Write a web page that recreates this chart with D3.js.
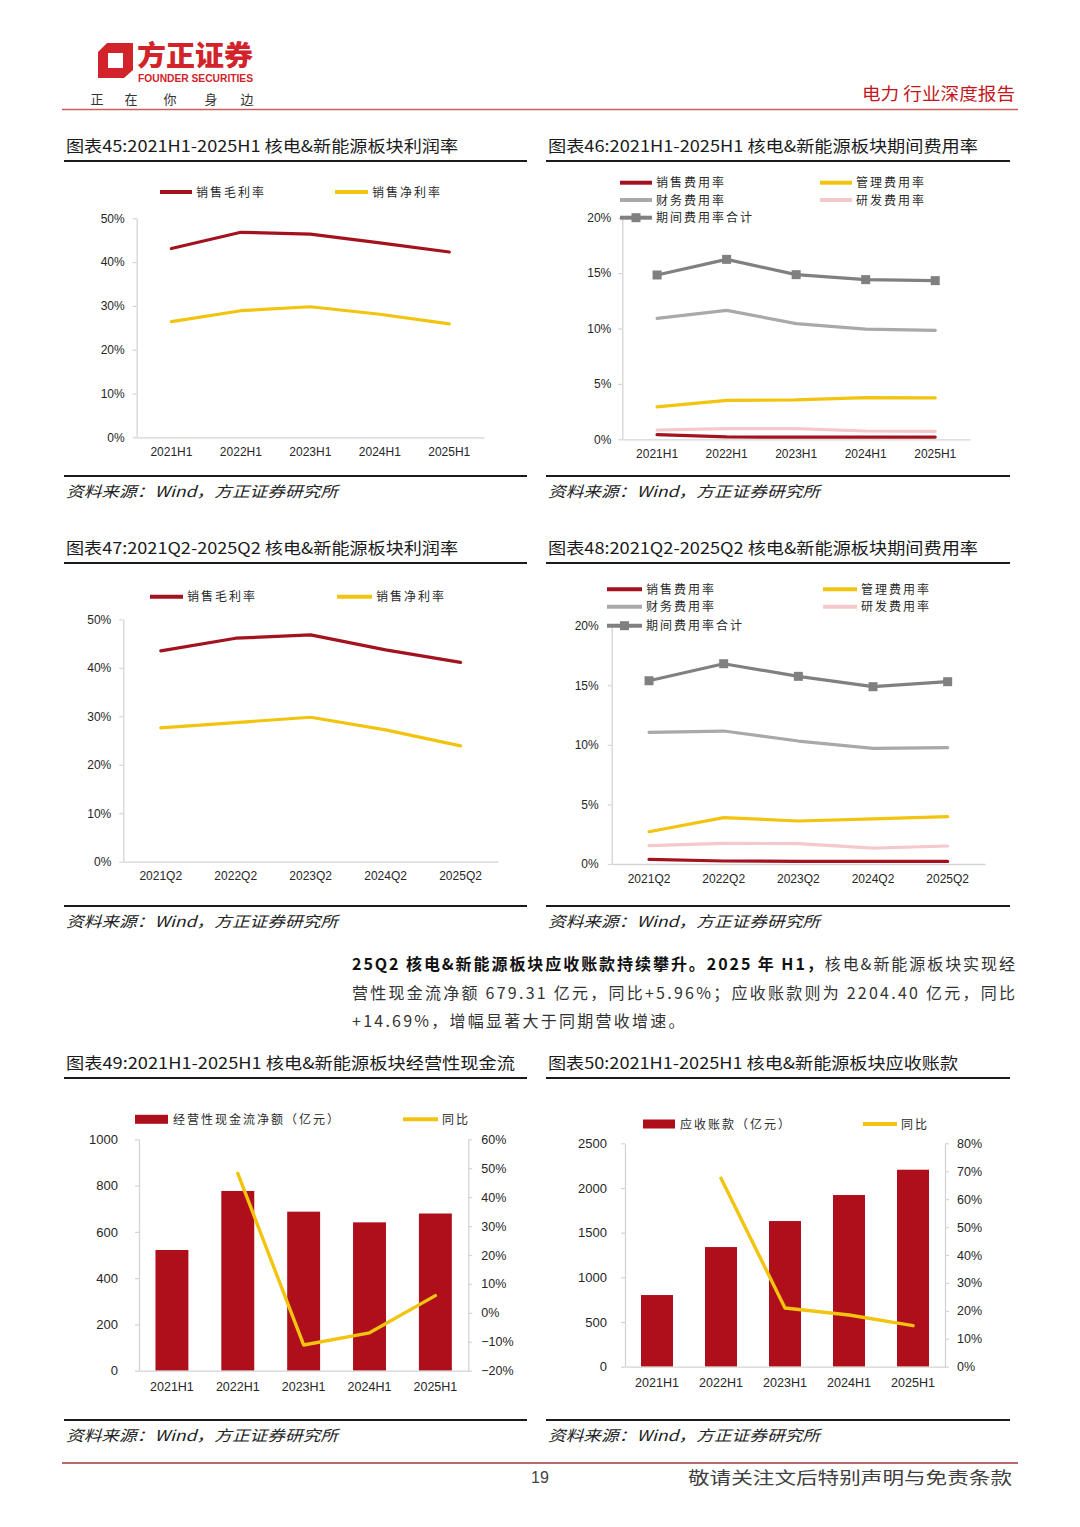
<!DOCTYPE html>
<html><head><meta charset="utf-8">
<script src="https://cdn.jsdelivr.net/npm/d3@7"></script>
<style>body{margin:0;background:#fff} svg{display:block}</style>
</head><body>
<svg id="page" width="1080" height="1527"></svg>
<script>
// ---------- data ----------
const catsH = ["2021H1","2022H1","2023H1","2024H1","2025H1"];
const catsQ = ["2021Q2","2022Q2","2023Q2","2024Q2","2025Q2"];

const c45Gross = [43.1, 46.8, 46.4, 44.4, 42.3];
const c45Net   = [26.4, 28.9, 29.8, 28.1, 25.9];

const c46Sales = [0.42, 0.21, 0.20, 0.20, 0.20];
const c46Admin = [2.92, 3.52, 3.55, 3.76, 3.73];
const c46Fin   = [10.92, 11.64, 10.44, 9.95, 9.83];
const c46RD    = [0.84, 0.96, 0.96, 0.75, 0.72];
const c46Total = [14.83, 16.24, 14.86, 14.41, 14.32];

const c47Gross = [43.5, 46.1, 46.8, 43.7, 41.1];
const c47Net   = [27.6, 28.7, 29.8, 27.2, 23.9];

const c48Sales = [0.39, 0.25, 0.22, 0.22, 0.22];
const c48Admin = [2.71, 3.89, 3.61, 3.78, 3.97];
const c48Fin   = [11.05, 11.16, 10.32, 9.71, 9.76];
const c48RD    = [1.54, 1.73, 1.71, 1.34, 1.51];
const c48Total = [15.38, 16.81, 15.75, 14.88, 15.30];

const c49Cash = [521.6, 776.7, 687.3, 641.1, 679.31];
const c49Yoy  = [null, 48.2, -11.1, -6.9, 5.96];

const c50AR  = [802, 1339, 1630, 1921, 2204.40];
const c50Yoy = [null, 67.5, 21.0, 18.5, 14.69];

const ticksPct50 = [0, 10, 20, 30, 40, 50];
const ticksPct20 = [0, 5, 10, 15, 20];
const ticksCash  = [0, 200, 400, 600, 800, 1000];
const ticksYoy49 = [-20, -10, 0, 10, 20, 30, 40, 50, 60];
const ticksAR    = [0, 500, 1000, 1500, 2000, 2500];
const ticksYoy50 = [0, 10, 20, 30, 40, 50, 60, 70, 80];

const namesMargin = ["销售毛利率", "销售净利率"];
const namesExp = ["销售费用率", "管理费用率", "财务费用率", "研发费用率", "期间费用率合计"];

// ---------- style ----------
const CJK = "'Noto Sans CJK SC', 'Noto Sans', sans-serif";
const LAT = "'Liberation Sans', Arial, sans-serif";
const RED = "#A3131F", BAR = "#AE0F1B", YEL = "#F2C40F", GRAY = "#808080", LGRAY = "#A9A9A9", PINK = "#F5C9CB";
const AX = "#D4D4D4";
const svg = d3.select("#page");
const pctFmt = d => (d < 0 ? "\u2212" + Math.abs(d) : d) + "%";

function styleAxis(g, fs) {
  g.attr("font-size", null).attr("font-family", null);
  g.select(".domain").attr("stroke", AX).attr("stroke-width", 1.3);
  g.selectAll(".tick line").attr("stroke", AX).attr("stroke-width", 1.2);
  g.selectAll("text").attr("font-family", LAT).attr("font-size", fs).attr("fill", "#262626");
}

// ---------- header ----------
svg.append("path")
  .attr("d", "M98,52 L107,43 L133,43 L133,70 L124,78 L98,78 Z M108,53 L123,53 L123,68 L108,68 Z")
  .attr("fill", "#D2232A").attr("fill-rule", "evenodd");
svg.append("text").attr("x", 137).attr("y", 66).text("方正证券")
  .attr("font-family", CJK).attr("font-weight", 900).attr("font-size", 28).attr("fill", "#D2232A")
  .attr("textLength", 116).attr("lengthAdjust", "spacingAndGlyphs");
svg.append("text").attr("x", 138).attr("y", 82).text("FOUNDER SECURITIES")
  .attr("font-family", LAT).attr("font-weight", 700).attr("font-size", 10).attr("fill", "#D2232A")
  .attr("textLength", 115).attr("lengthAdjust", "spacingAndGlyphs");
const motto = ["正", "在", "你", "身", "边"], mottoX = [97, 131, 170, 211, 247];
svg.selectAll("text.motto").data(motto).join("text").attr("class", "motto")
  .attr("x", (d, i) => mottoX[i]).attr("y", 104).attr("text-anchor", "middle").text(d => d)
  .attr("font-family", CJK).attr("font-size", 13).attr("fill", "#333");
svg.append("text").attr("x", 1015).attr("y", 100).attr("text-anchor", "end").text("电力 行业深度报告")
  .attr("font-family", CJK).attr("font-size", 17).attr("fill", "#C4161C")
  .attr("textLength", 153).attr("lengthAdjust", "spacingAndGlyphs");
svg.append("line").attr("x1", 62).attr("x2", 1018).attr("y1", 109.5).attr("y2", 109.5)
  .attr("stroke", "#C9605C").attr("stroke-width", 1.5);

// ---------- frames ----------
function frame(x0, x1, yTitle, yRule, yBottom, title, tLen) {
  svg.append("text").attr("x", x0 + 2).attr("y", yTitle + 6).text(title)
    .attr("font-family", CJK).attr("font-size", 16).attr("fill", "#1a1a1a")
    .attr("textLength", tLen).attr("lengthAdjust", "spacingAndGlyphs");
  svg.append("line").attr("x1", x0).attr("x2", x1).attr("y1", yRule).attr("y2", yRule)
    .attr("stroke", "#1a1a1a").attr("stroke-width", 2.2);
  svg.append("line").attr("x1", x0).attr("x2", x1).attr("y1", yBottom).attr("y2", yBottom)
    .attr("stroke", "#1a1a1a").attr("stroke-width", 2.2);
  svg.append("text").attr("x", x0 + 2).attr("y", yBottom + 21).text("资料来源：Wind，方正证券研究所")
    .attr("font-family", CJK).attr("font-style", "italic").attr("font-size", 15).attr("fill", "#222")
    .attr("textLength", 272).attr("lengthAdjust", "spacingAndGlyphs");
}
frame(64, 527, 146, 161, 476, "图表45:2021H1-2025H1 核电&新能源板块利润率", 392);
frame(546, 1010, 146, 161, 476, "图表46:2021H1-2025H1 核电&新能源板块期间费用率", 430);
frame(64, 527, 548, 563, 906, "图表47:2021Q2-2025Q2 核电&新能源板块利润率", 392);
frame(546, 1010, 548, 563, 906, "图表48:2021Q2-2025Q2 核电&新能源板块期间费用率", 430);
frame(64, 527, 1063, 1078, 1420, "图表49:2021H1-2025H1 核电&新能源板块经营性现金流", 449);
frame(546, 1010, 1063, 1078, 1420, "图表50:2021H1-2025H1 核电&新能源板块应收账款", 410);

// ---------- legend helpers ----------
function legLine(x1, x2, y, color, label, marker) {
  svg.append("line").attr("x1", x1).attr("x2", x2).attr("y1", y).attr("y2", y)
    .attr("stroke", color).attr("stroke-width", 4);
  if (marker) svg.append("rect").attr("x", (x1 + x2) / 2 - 4.5).attr("y", y - 4.5)
    .attr("width", 9).attr("height", 9).attr("fill", color);
  svg.append("text").attr("x", x2 + 4).attr("y", y + 4.5).text(label)
    .attr("font-family", CJK).attr("font-size", 12).attr("letter-spacing", 2).attr("fill", "#2a2a2a");
}
function legRect(x1, x2, y, color, label) {
  svg.append("rect").attr("x", x1).attr("y", y - 4.5).attr("width", x2 - x1).attr("height", 9).attr("fill", color);
  svg.append("text").attr("x", x2 + 5).attr("y", y + 4.5).text(label)
    .attr("font-family", CJK).attr("font-size", 12).attr("letter-spacing", 2).attr("fill", "#2a2a2a");
}

// ---------- line chart ----------
function lineChart(cfg) {
  const x = d3.scaleBand().domain(cfg.cats).range([cfg.x0, cfg.x1]);
  const y = d3.scaleLinear().domain(cfg.dom).range([cfg.yb, cfg.yt]);
  const gy = svg.append("g").attr("transform", `translate(${cfg.x0},0)`)
    .call(d3.axisLeft(y).tickValues(cfg.ticks).tickFormat(pctFmt).tickSize(4).tickSizeOuter(0).tickPadding(cfg.pad));
  styleAxis(gy, 12);
  const gx = svg.append("g").attr("transform", `translate(0,${cfg.yb})`)
    .call(d3.axisBottom(x).tickSize(0).tickPadding(10));
  styleAxis(gx, 12);
  const line = d3.line().x((d, i) => x(cfg.cats[i]) + x.bandwidth() / 2).y(d => y(d));
  cfg.series.forEach(s => {
    svg.append("path").datum(s.vals).attr("d", line).attr("fill", "none")
      .attr("stroke", s.color).attr("stroke-width", 3.2).attr("stroke-linejoin", "round").attr("stroke-linecap", "round");
    if (s.marker) {
      svg.selectAll(null).data(s.vals).join("rect")
        .attr("x", (d, i) => x(cfg.cats[i]) + x.bandwidth() / 2 - 4.5).attr("y", d => y(d) - 4.5)
        .attr("width", 9).attr("height", 9).attr("fill", s.color);
    }
  });
}

// chart 45
legLine(160, 192, 192, RED, namesMargin[0]);
legLine(335, 368, 192, YEL, namesMargin[1]);
lineChart({cats: catsH, x0: 136.7, x1: 484, yb: 437.3, yt: 218.3, dom: [0, 50], ticks: ticksPct50, pad: 8,
  series: [{vals: c45Gross, color: RED}, {vals: c45Net, color: YEL}]});

// chart 46
lineChart({cats: catsH, x0: 622.3, x1: 970, yb: 439.3, yt: 217.7, dom: [0, 20], ticks: ticksPct20, pad: 7,
  series: [{vals: c46RD, color: PINK}, {vals: c46Sales, color: RED}, {vals: c46Admin, color: YEL},
           {vals: c46Fin, color: LGRAY}, {vals: c46Total, color: GRAY, marker: true}]});
legLine(620, 652, 182.7, RED, namesExp[0]);
legLine(820, 852, 182.7, YEL, namesExp[1]);
legLine(620, 652, 200, LGRAY, namesExp[2]);
legLine(820, 852, 200, PINK, namesExp[3]);
legLine(620, 652, 217.7, GRAY, namesExp[4], true);

// chart 47
legLine(150, 183, 596.7, RED, namesMargin[0]);
legLine(337, 372, 596.7, YEL, namesMargin[1]);
lineChart({cats: catsQ, x0: 123.3, x1: 498, yb: 861.7, yt: 619.3, dom: [0, 50], ticks: ticksPct50, pad: 8,
  series: [{vals: c47Gross, color: RED}, {vals: c47Net, color: YEL}]});

// chart 48
lineChart({cats: catsQ, x0: 611.7, x1: 985, yb: 864, yt: 625.7, dom: [0, 20], ticks: ticksPct20, pad: 9,
  series: [{vals: c48RD, color: PINK}, {vals: c48Sales, color: RED}, {vals: c48Admin, color: YEL},
           {vals: c48Fin, color: LGRAY}, {vals: c48Total, color: GRAY, marker: true}]});
legLine(607, 642, 589.3, RED, namesExp[0]);
legLine(823, 857, 589.3, YEL, namesExp[1]);
legLine(607, 642, 606.7, LGRAY, namesExp[2]);
legLine(823, 857, 606.7, PINK, namesExp[3]);
legLine(607, 642, 625.7, GRAY, namesExp[4], true);

// ---------- combo chart ----------
function comboChart(cfg) {
  const x = d3.scaleBand().domain(cfg.cats).range([cfg.x0, cfg.x1]).paddingInner(0.5).paddingOuter(0.25);
  const yl = d3.scaleLinear().domain(cfg.domL).range([cfg.yb, cfg.yt]);
  const yr = d3.scaleLinear().domain(cfg.domR).range([cfg.yb, cfg.yt]);
  const gl = svg.append("g").attr("transform", `translate(${cfg.x0},0)`)
    .call(d3.axisLeft(yl).tickValues(cfg.ticksL).tickFormat(d3.format("d")).tickSize(4).tickSizeOuter(0).tickPadding(cfg.padL));
  styleAxis(gl, 13);
  const gr = svg.append("g").attr("transform", `translate(${cfg.x1},0)`)
    .call(d3.axisRight(yr).tickValues(cfg.ticksR).tickFormat(pctFmt).tickSize(4).tickSizeOuter(0).tickPadding(cfg.padR));
  styleAxis(gr, 12.5);
  svg.selectAll(null).data(cfg.bars).join("rect")
    .attr("x", (d, i) => x(cfg.cats[i])).attr("width", x.bandwidth())
    .attr("y", d => yl(d)).attr("height", d => yl(cfg.domL[0]) - yl(d)).attr("fill", BAR);
  const gx = svg.append("g").attr("transform", `translate(0,${cfg.yb})`)
    .call(d3.axisBottom(x).tickSize(0).tickPadding(11));
  styleAxis(gx, 12.5);
  const line = d3.line().defined(d => d != null)
    .x((d, i) => x(cfg.cats[i]) + x.bandwidth() / 2).y(d => yr(d));
  svg.append("path").datum(cfg.yoy).attr("d", line).attr("fill", "none")
    .attr("stroke", YEL).attr("stroke-width", 3.4).attr("stroke-linejoin", "round").attr("stroke-linecap", "round");
}

legRect(135, 168, 1119.3, BAR, "经营性现金流净额（亿元）");
legLine(403, 438, 1119.3, YEL, "同比");
comboChart({cats: catsH, x0: 139, x1: 468.3, yb: 1370.7, yt: 1139.3, domL: [0, 1000], domR: [-20, 60],
  ticksL: ticksCash, ticksR: ticksYoy49, padL: 17, padR: 9, bars: c49Cash, yoy: c49Yoy});

legRect(643, 675, 1124, BAR, "应收账款（亿元）");
legLine(863, 897, 1124, YEL, "同比");
comboChart({cats: catsH, x0: 625, x1: 945, yb: 1366.7, yt: 1143.3, domL: [0, 2500], domR: [0, 80],
  ticksL: ticksAR, ticksR: ticksYoy50, padL: 14, padR: 8, bars: c50AR, yoy: c50Yoy});

// ---------- paragraph ----------
const paraLines = [
  [["25Q2 核电&新能源板块应收账款持续攀升。2025 年 H1，", true], ["核电&新能源板块实现经", false]],
  [["营性现金流净额 679.31 亿元，同比+5.96%；应收账款则为 2204.40 亿元，同比", false]],
  [["+14.69%，增幅显著大于同期营收增速。", false]]
];
const paraY = [970, 999, 1027];
let lastLS = 0;
paraLines.forEach((parts, li) => {
  const t = svg.append("text").attr("x", 352).attr("y", paraY[li])
    .attr("font-family", CJK).attr("font-size", 16);
  parts.forEach(([s, b]) => t.append("tspan").text(s)
    .attr("font-weight", b ? 700 : 400).attr("fill", b ? "#111" : "#333"));
  const n = parts.map(p => p[0]).join("").length;
  if (li < 2) {
    const w = t.node().getComputedTextLength();
    lastLS = (1015 - 352 - w) / (n - 1);
  }
  t.attr("letter-spacing", lastLS);
});

// ---------- footer ----------
svg.append("line").attr("x1", 62).attr("x2", 1018).attr("y1", 1463).attr("y2", 1463)
  .attr("stroke", "#B86A66").attr("stroke-width", 2);
svg.append("text").attr("x", 540).attr("y", 1483).attr("text-anchor", "middle").text("19")
  .attr("font-family", LAT).attr("font-size", 16).attr("fill", "#444");
svg.append("text").attr("x", 688).attr("y", 1484).text("敬请关注文后特别声明与免责条款")
  .attr("font-family", CJK).attr("font-size", 17).attr("fill", "#404040")
  .attr("textLength", 324).attr("lengthAdjust", "spacingAndGlyphs");
</script>
</body></html>
